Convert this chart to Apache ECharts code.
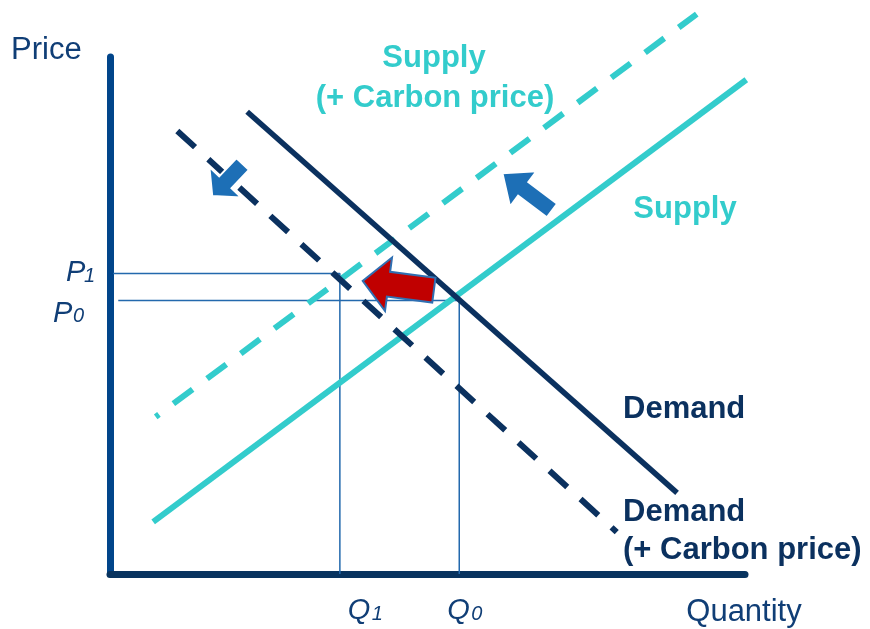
<!DOCTYPE html>
<html>
<head>
<meta charset="utf-8">
<title>Carbon price: supply and demand</title>
<script src="https://cdn.jsdelivr.net/npm/echarts@6/dist/echarts.min.js"></script>
<style>
  html, body { margin: 0; padding: 0; background: #ffffff; }
  #chart { width: 870px; height: 629px; }
</style>
</head>
<body>
<div id="chart"></div>
<script>
// Curves in quantity/price units: each is [startPoint, endPoint]
const supplyCurve        = [[6.8, 10.1], [100.2, 95.6]];
const supplyCarbonCurve  = [[7.2, 30.4], [92.4, 108.3]];
const demandCurve        = [[21.6, 89.4], [89.3, 15.7]];
const demandCarbonCurve  = [[10.6, 85.7], [79.8, 8.1]];

// Equilibrium tick values (index 0: with carbon price, index 1: without)
const priceTicks      = [58.1, 52.9];
const priceTickSubs   = ['1', '0'];
const quantityTicks   = [36.2, 55.0];
const quantityTickSubs = ['1', '0'];

// Shift arrows: [tail, tip]
const supplyShiftArrow   = [[69.6, 70.3], [61.8, 77.5]];
const demandShiftArrow   = [[20.9, 79.3], [16.1, 73.1]];
const quantityShiftArrow = [[51.0, 54.9], [39.8, 56.7]];

const TEAL = '#33CCCC';
const NAVY = '#0b315f';
const LABEL_BLUE = '#103e76';
const GUIDE_BLUE = '#2369ad';
const FONT = '"Liberation Sans", Arial, Helvetica, sans-serif';

const chart = echarts.init(document.getElementById('chart'), null, { renderer: 'canvas' });

const lineBase = { type: 'line', symbol: 'none', clip: false, silent: true, animation: false };

const [P1, P0] = priceTicks;
const [Q1, Q0] = quantityTicks;

chart.setOption({
  animation: false,
  backgroundColor: '#ffffff',
  grid: { left: 110, right: 125, top: 57, bottom: 55, containLabel: false, outerBoundsMode: 'none' },
  xAxis: {
    type: 'value', min: 0, max: 100,
    axisLine: { show: true, onZero: false, lineStyle: { color: '#08335f', width: 7 } },
    axisTick: { show: false }, axisLabel: { show: false }, splitLine: { show: false }
  },
  yAxis: {
    type: 'value', min: 0, max: 100,
    axisLine: { show: true, onZero: false, lineStyle: { color: '#01458a', width: 7 } },
    axisTick: { show: false }, axisLabel: { show: false }, splitLine: { show: false }
  },
  series: [
    { ...lineBase, name: 'P1 guide', z: 1,
      data: [[0.5, P1], [Q1, P1], [Q1, 0]],
      lineStyle: { color: GUIDE_BLUE, width: 1.5 } },
    { ...lineBase, name: 'P0 guide', z: 1,
      data: [[1.3, P0], [Q0, P0], [Q0, 0]],
      lineStyle: { color: GUIDE_BLUE, width: 1.5 } },
    { ...lineBase, name: 'Supply', z: 3,
      data: supplyCurve,
      lineStyle: { color: TEAL, width: 6 } },
    { ...lineBase, name: 'Supply (+ Carbon price)', z: 3,
      data: supplyCarbonCurve,
      lineStyle: { color: TEAL, width: 6, type: [24, 18], dashOffset: 20 } },
    { ...lineBase, name: 'Demand', z: 4,
      data: demandCurve,
      lineStyle: { color: NAVY, width: 5.5 } },
    { ...lineBase, name: 'Demand (+ Carbon price)', z: 4,
      data: demandCarbonCurve,
      lineStyle: { color: NAVY, width: 6, type: [24, 18], dashOffset: 0 } }
  ]
});

function px(pt) { return chart.convertToPixel({ gridIndex: 0 }, pt); }

// Block arrow outline from tail to tip (sizes in pixels)
function arrowPoints(tail, tip, headLen, headW, shaftW) {
  const b = px(tail), t = px(tip);
  const dx = t[0] - b[0], dy = t[1] - b[1];
  const len = Math.hypot(dx, dy);
  const ux = dx / len, uy = dy / len, nx = -uy, ny = ux;
  const hx = t[0] - ux * headLen, hy = t[1] - uy * headLen;
  const s = shaftW / 2, h = headW / 2;
  return [
    [b[0] + nx * s, b[1] + ny * s],
    [hx + nx * s, hy + ny * s],
    [hx + nx * h, hy + ny * h],
    [t[0], t[1]],
    [hx - nx * h, hy - ny * h],
    [hx - nx * s, hy - ny * s],
    [b[0] - nx * s, b[1] - ny * s]
  ];
}

function text(x, y, str, font, fill, align) {
  return {
    type: 'text', x: x, y: y, z: 120, silent: true,
    style: { text: str, font: font, fill: fill,
             align: align || 'left', verticalAlign: 'middle',
             textAlign: align || 'left', textVerticalAlign: 'middle' }
  };
}

const bold31 = 'bold 31px ' + FONT;
const reg31 = '31px ' + FONT;
const italBig = 'italic 29px ' + FONT;
const italSub = 'italic 20px ' + FONT;

const graphics = [];

// Shift arrows
graphics.push({
  type: 'polygon', z: 110, silent: true,
  shape: { points: arrowPoints(demandShiftArrow[0], demandShiftArrow[1], 19, 44, 17) },
  style: { fill: '#1d6fb6', stroke: '#ffffff', lineWidth: 2 }
});
graphics.push({
  type: 'polygon', z: 110, silent: true,
  shape: { points: arrowPoints(supplyShiftArrow[0], supplyShiftArrow[1], 26, 44, 17) },
  style: { fill: '#1d6fb6', stroke: '#ffffff', lineWidth: 2 }
});
graphics.push({
  type: 'polygon', z: 110, silent: true,
  shape: { points: arrowPoints(quantityShiftArrow[0], quantityShiftArrow[1], 26, 54, 25) },
  style: { fill: '#c00000', stroke: '#2f6fb2', lineWidth: 2 }
});

// Axis titles
graphics.push(text(11, 50, 'Price', reg31, LABEL_BLUE));
graphics.push(text(744, 612, 'Quantity', reg31, LABEL_BLUE, 'center'));

// Curve labels
graphics.push(text(434, 58, 'Supply', bold31, TEAL, 'center'));
graphics.push(text(435, 98, '(+ Carbon price)', bold31, TEAL, 'center'));
graphics.push(text(685, 209, 'Supply', bold31, TEAL, 'center'));
graphics.push(text(623, 409, 'Demand', bold31, NAVY));
graphics.push(text(623, 512, 'Demand', bold31, NAVY));
graphics.push(text(623, 550, '(+ Carbon price)', bold31, NAVY));

// Price tick labels P1, P0
const pY1 = px([0, priceTicks[0]])[1];
const pY0 = px([0, priceTicks[1]])[1];
graphics.push(text(66, pY1 - 0.5, 'P', italBig, LABEL_BLUE));
graphics.push(text(84, pY1 + 2.5, priceTickSubs[0], italSub, LABEL_BLUE));
graphics.push(text(53, pY0 + 13, 'P', italBig, LABEL_BLUE));
graphics.push(text(73, pY0 + 16, priceTickSubs[1], italSub, LABEL_BLUE));

// Quantity tick labels Q1, Q0
const qX1 = px([quantityTicks[0], 0])[0];
const qX0 = px([quantityTicks[1], 0])[0];
graphics.push(text(qX1 + 8, 611, 'Q', italBig, LABEL_BLUE));
graphics.push(text(qX1 + 32, 614, quantityTickSubs[0], italSub, LABEL_BLUE));
graphics.push(text(qX0 - 12, 611, 'Q', italBig, LABEL_BLUE));
graphics.push(text(qX0 + 12, 614, quantityTickSubs[1], italSub, LABEL_BLUE));

chart.setOption({ graphic: graphics });
</script>
</body>
</html>
